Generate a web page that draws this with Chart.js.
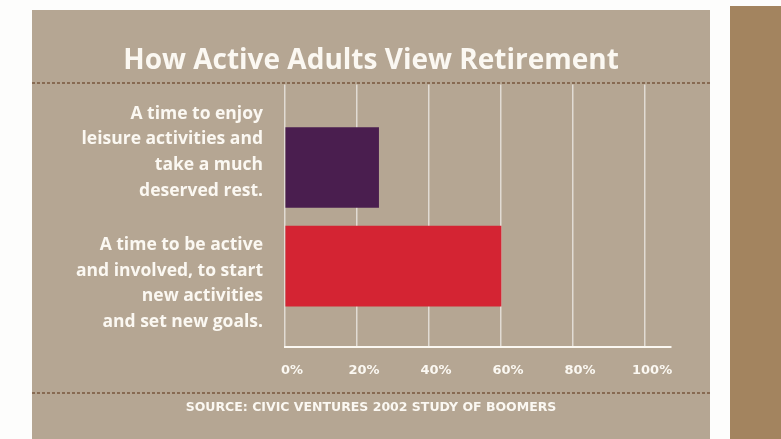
<!DOCTYPE html>
<html>
<head>
<meta charset="utf-8">
<script src="https://cdn.jsdelivr.net/npm/chart.js@4"></script>
<style>
  html, body { margin: 0; padding: 0; background: #fdfdfc; }
  body { width: 781px; height: 439px; position: relative; overflow: hidden; }
  #painel { position: absolute; left: 32px; top: 10px; width: 678px; height: 429px; background: #b5a693; }
  #faixa { position: absolute; left: 730px; top: 6px; width: 51px; height: 433px; background: #a3845f; }
  .tracejado { position: absolute; left: 32px; width: 678px; height: 2px;
    background: repeating-linear-gradient(90deg, #876a52 0 3px, transparent 3px 5px); }
  canvas { position: absolute; left: 0; top: 0; }
</style>
</head>
<body>
<div id="painel"><canvas id="grafico" width="678" height="429"></canvas></div>
<div id="faixa"></div>
<div class="tracejado" style="top:82px"></div>
<div class="tracejado" style="top:392px"></div>

<script>
// =======================
// Dados
// =======================
const categorias = [
  ["A time to enjoy", "leisure activities and", "take a much", "deserved rest."],
  ["A time to be active", "and involved, to start", "new activities", "and set new goals."]
];
const valores = [26, 60];
const cores = ["#4a1e4f", "#d42433"];
const ticksX = [0, 20, 40, 60, 80, 100];

const titulo = "How Active Adults View Retirement";
const fonte = "SOURCE: CIVIC VENTURES 2002 STUDY OF BOOMERS";

const branco = "#fbf8f2";
const familia = "'Open Sans', 'Noto Sans', sans-serif";
const familiaLarga = "'DejaVu Sans', 'Open Sans', sans-serif";

// =======================
// Gráfico
// =======================
const ctx = document.getElementById("grafico").getContext("2d");

new Chart(ctx, {
  type: "bar",
  data: {
    datasets: [{
      data: valores.map((v, i) => ({ x: v, y: i })),
      backgroundColor: cores,
      borderWidth: 0,
      barThickness: 80,
      yAxisID: "y"
    }]
  },
  options: {
    indexAxis: "y",
    responsive: false,
    animation: false,
    layout: { padding: 0 },
    plugins: {
      legend: { display: false },
      tooltip: { enabled: false },
      title: {
        display: true,
        text: titulo,
        color: branco,
        font: { family: familia, size: 28, weight: "bold", lineHeight: 1.2 },
        padding: { top: 34, bottom: 7 }
      },
      subtitle: {
        display: true,
        position: "bottom",
        text: fonte,
        color: branco,
        font: { family: familiaLarga, size: 12.5, weight: "bold", lineHeight: 1.2 },
        padding: { top: 13, bottom: 24 }
      }
    },
    scales: {
      x: {
        type: "linear",
        min: 0,
        max: 107.2,
        afterBuildTicks: (s) => { s.ticks = ticksX.map(v => ({ value: v })); },
        afterFit: (s) => { s.height = 40; },
        grid: { color: "rgba(255,255,255,0.6)", lineWidth: 1.5, drawTicks: false },
        border: { color: branco, width: 2 },
        ticks: {
          color: branco,
          padding: 16,
          labelOffset: 7,
          font: { family: familiaLarga, size: 13, weight: "bold" },
          callback: (v) => v + "%"
        }
      },
      // eixo das barras: sem nada desenhado, só reserva a margem direita
      y: {
        type: "linear",
        position: "right",
        offset: false,
        reverse: true,
        min: -0.84,
        max: 1.82,
        afterFit: (s) => { s.width = 39; },
        grid: { display: false },
        border: { display: false },
        ticks: { display: false }
      },
      // eixo só com os textos das categorias
      rotulos: {
        type: "category",
        axis: "y",
        position: "left",
        labels: categorias,
        offset: true,
        afterFit: (s) => { s.width = 253; },
        grid: { display: false },
        border: { display: false },
        ticks: {
          color: branco,
          padding: 14,
          labelOffset: 2,
          font: { family: familia, size: 17.5, weight: "bold", lineHeight: 1.46 }
        }
      }
    }
  }
});
</script>
</body>
</html>
